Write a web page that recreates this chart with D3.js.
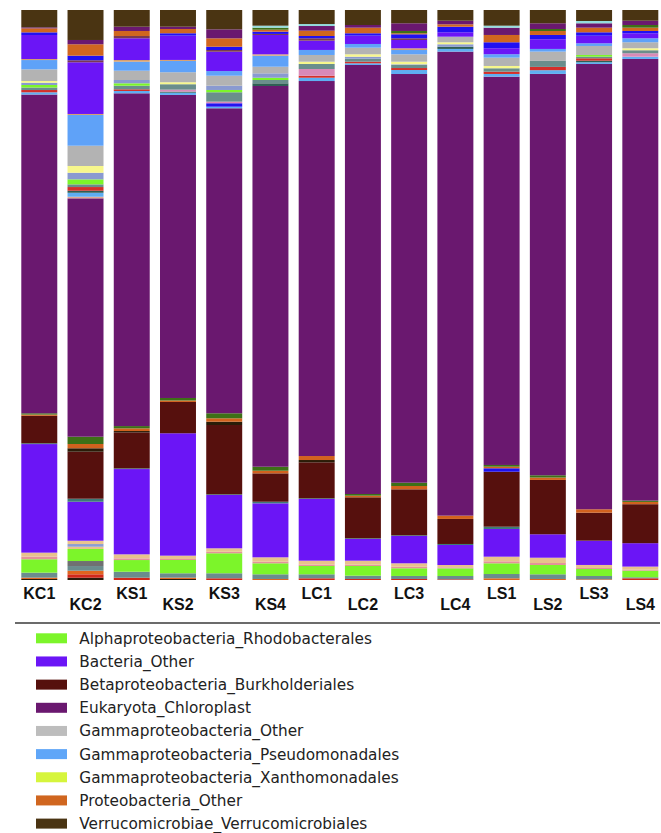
<!DOCTYPE html>
<html><head><meta charset="utf-8">
<script src="https://cdn.jsdelivr.net/npm/d3@7"></script>
<style>body{margin:0;background:#fff;} svg{display:block;}</style>
</head><body>
<svg id="chart" width="661" height="833"></svg>
<script>
// Samples (x categories)
const samples = ["KC1","KC2","KS1","KS2","KS3","KS4","LC1","LC2","LC3","LC4","LS1","LS2","LS3","LS4"];

// Taxa in stacking order, bottom to top (only some of them appear in the legend)
const taxa = [
  "Other_a","Other_b","Other_c","Other_d","Other_e",
  "Alphaproteobacteria_Rhodobacterales",
  "Other_f","Other_g","Other_h","Other_i",
  "Bacteria_Other",
  "Other_j",
  "Betaproteobacteria_Burkholderiales",
  "Other_k","Other_l","Other_m","Other_n",
  "Eukaryota_Chloroplast",
  "Other_o","Other_p","Other_q","Other_r","Other_s","Other_t","Other_u","Other_v","Other_w","Other_x",
  "Gammaproteobacteria_Other",
  "Gammaproteobacteria_Pseudomonadales",
  "Other_y","Other_z","Other_aa","Other_ab",
  "Proteobacteria_Other",
  "Other_ac","Other_ad","Other_ae",
  "Verrucomicrobiae_Verrucomicrobiales"
];
const taxaColors = [
  "#2b1b0b","#d2281a","#e0641e","#6b8c8e","#707072",
  "#7cf52a",
  "#e4929a","#e8c28c","#8c9ed2","#eac48e",
  "#6b15f6",
  "#3e7b78",
  "#56100d",
  "#1e10f2","#2a1c08","#d2621e","#3d7017",
  "#6a186f",
  "#e2a892","#5faef2","#2414f0","#2f5e55","#d3302b","#d98ab8","#6a8e8c","#7cf52a","#8a9ad0","#f7f78c",
  "#b3b3b3",
  "#5fa2f8",
  "#d6a070","#6b15f6","#7a3a50","#2010f2",
  "#d0661f",
  "#3d7017","#6a186f","#94dcdc",
  "#4a3412"
];

// Relative abundance (%) per sample, in the taxa order above
const KC1 = [0.18,0,0.23,0.88,0,2.35,0.46,0.70,0,0,19.05,0.14,4.82,0,0,0.21,0.23,55.93,0,0.39,0,0,0.40,0,0.44,0.44,0.40,0.30,2.05,1.63,0.18,4.21,0,0.47,0.70,0,0.18,0,3.04];
const KC2 = [0.40,0.60,0.63,0.82,0.88,2.11,0,0.40,0.47,0.58,6.84,0.53,8.25,0,0.60,0.75,1.28,41.82,0.28,0.70,0,0.35,0.65,0,0.47,0.88,1.16,1.18,3.56,5.39,0.18,9.07,0.35,0.81,2.00,0,0.75,0,5.26];
const KS1 = [0,0.40,0,1.05,0,2.05,0.30,0.70,0,0,14.96,0.12,6.32,0,0.23,0.47,0.40,58.37,0,0.40,0,0,0.30,0,0.63,0.42,0.58,0,1.63,1.58,0.30,3.81,0.40,0,0.88,0,0.75,0,2.93];
const KS2 = [0.18,0,0.23,0.77,0,2.33,0.18,0.58,0,0,21.47,0,5.49,0,0,0.26,0.44,53.16,0,0.40,0,0.18,0,0.35,0.95,0,0,0.35,1.75,1.98,0.18,4.26,0,0.42,0.75,0,0.40,0,2.93];
const KS3 = [0,0.30,0,0.88,0,3.51,0.26,0.61,0,0,9.35,0.12,12.16,0,0.58,0.60,0.88,53.51,0,0.28,0.60,0,0,0.28,1.65,0.40,0.75,0,1.75,0.82,0,3.39,0.30,0.58,1.47,0,1.58,0,3.39];
const KS4 = [0,0,0.18,0.82,0,1.93,0.28,0.77,0,0,9.47,0.28,4.98,0,0,0.46,0.70,66.79,0,0,0,0.47,0,0,0.58,0.40,0.77,0,1.16,1.93,0.25,3.39,0.18,0.40,0.35,0.35,0,0.35,2.75];
const LC1 = [0,0.30,0,0.70,0,1.46,0.26,0.67,0,0,10.82,0.12,6.32,0,0.40,0.70,0,65.79,0,0.58,0,0,0.35,1.18,0.88,0,0,0.40,1.18,0.88,0,1.63,0.42,0.40,0.93,0,0.82,0.35,2.46];
const LC2 = [0,0.18,0,0.58,0,1.70,0.23,0.70,0,0,3.81,0.12,7.19,0,0,0.28,0.30,75.26,0,0.30,0,0,0.28,0,0.53,0,0.35,0.42,1.16,0.65,0,1.46,0,0.42,0.98,0,0.47,0,2.63];
const LC3 = [0,0.18,0,0.53,0,1.35,0.26,0.61,0,0,4.79,0.12,8.07,0,0,0.58,0.58,71.70,0,0.70,0,0,0.35,0,0.53,0,0.12,0.46,1.30,0.75,0.30,1.46,0.30,0.70,0.18,0.40,1.35,0,2.33];
const LC4 = [0,0.12,0,0.58,0,1.35,0.18,0.40,0,0,3.51,0.18,4.39,0,0,0.58,0,81.40,0,0.47,0,0.40,0,0,0,0,0.42,0.35,0.98,0,0,0.77,0,0.98,0.42,0,0.63,0,1.88];
const LS1 = [0,0,0.30,0.75,0,1.88,0.35,0.81,0,0,4.86,0.40,9.65,0.60,0,0.28,0.30,68.12,0,0.47,0,0,0.40,0,0.60,0,0,0.40,1.46,0.60,0,1.05,0,1.05,1.28,0,1.28,0.35,2.75];
const LS2 = [0,0,0.18,0.82,0,1.63,0.35,0.93,0,0,4.11,0,9.53,0,0,0.42,0.40,70.40,0,0.65,0,0,0.58,0,1.05,0,0,0,1.63,0.47,0,1.70,0,0.75,0.70,0.35,1.00,0,2.33];
const LS3 = [0,0,0.12,0.58,0,1.23,0.18,0.53,0,0,4.26,0,4.91,0,0,0.60,0,78.12,0,0.30,0,0.28,0.42,0,0.28,0.30,0,0,1.58,0.47,0,1.33,0,0.60,0.81,0,0.77,0.40,1.93];
const LS4 = [0,0.30,0,0.18,0,1.16,0.18,0.53,0,0,4.11,0,6.84,0,0,0.40,0.23,77.49,0,0.40,0,0,0,0.60,0.53,0,0,0.35,1.05,0.70,0,0.88,0,0.40,0.58,0.47,0.75,0,1.88];
const sampleValues = [KC1,KC2,KS1,KS2,KS3,KS4,LC1,LC2,LC3,LC4,LS1,LS2,LS3,LS4];

// Legend
const legendNames = [
  "Alphaproteobacteria_Rhodobacterales","Bacteria_Other","Betaproteobacteria_Burkholderiales",
  "Eukaryota_Chloroplast","Gammaproteobacteria_Other","Gammaproteobacteria_Pseudomonadales",
  "Gammaproteobacteria_Xanthomonadales","Proteobacteria_Other","Verrucomicrobiae_Verrucomicrobiales"
];
const legendColors = ["#7cf52a","#6b15f6","#56100d","#6a186f","#bdbdbd","#5fa6f8","#d6f53c","#d0661f","#4a3412"];

const svg = d3.select("#chart");
const x = d3.scaleBand().domain(samples).range([21.3, 658.3]).paddingInner(0.222).paddingOuter(0);
const y = d3.scaleLinear().domain([0, 1]).range([580, 10]);

const rows = samples.map((s, i) => {
  const r = {sample: s};
  taxa.forEach((t, j) => r[t] = sampleValues[i][j]);
  return r;
});
const series = d3.stack().keys(taxa).order(d3.stackOrderNone).offset(d3.stackOffsetExpand)(rows);

svg.append("g").selectAll("g").data(series).join("g")
  .attr("fill", (d, i) => taxaColors[i])
  .selectAll("rect").data(d => d).join("rect")
  .attr("x", d => x(d.data.sample))
  .attr("width", x.bandwidth())
  .attr("y", d => y(d[1]))
  .attr("height", d => Math.max(0, y(d[0]) - y(d[1])));

// x labels, staggered
const xAxis = svg.append("g").attr("transform", "translate(0,580)")
  .call(d3.axisBottom(x).tickSize(0).tickPadding(0));
xAxis.select(".domain").remove();
xAxis.selectAll("text")
  .attr("font-family", "'Liberation Sans', Arial, sans-serif")
  .attr("font-weight", "bold")
  .attr("font-size", 16)
  .attr("fill", "#111")
  .attr("dy", null)
  .attr("y", (d, i) => i % 2 === 0 ? 18.5 : 30);

// separator rule
svg.append("line").attr("x1", 15).attr("x2", 660).attr("y1", 623).attr("y2", 623)
  .attr("stroke", "#3a3a3a").attr("stroke-width", 1.4);

// legend
const ly = d3.scalePoint().domain(legendNames).range([638.3, 823.6]);
const lg = svg.append("g").selectAll("g").data(legendNames).join("g")
  .attr("transform", d => `translate(0,${ly(d)})`);
lg.append("rect").attr("x", 36).attr("y", -5).attr("width", 31).attr("height", 10)
  .attr("fill", (d, i) => legendColors[i]);
lg.append("text").attr("x", 79.3).attr("y", 5.5)
  .attr("font-family", "'DejaVu Sans', Verdana, sans-serif")
  .attr("font-size", 15.3).attr("fill", "#222")
  .text(d => d);
</script>
</body></html>
